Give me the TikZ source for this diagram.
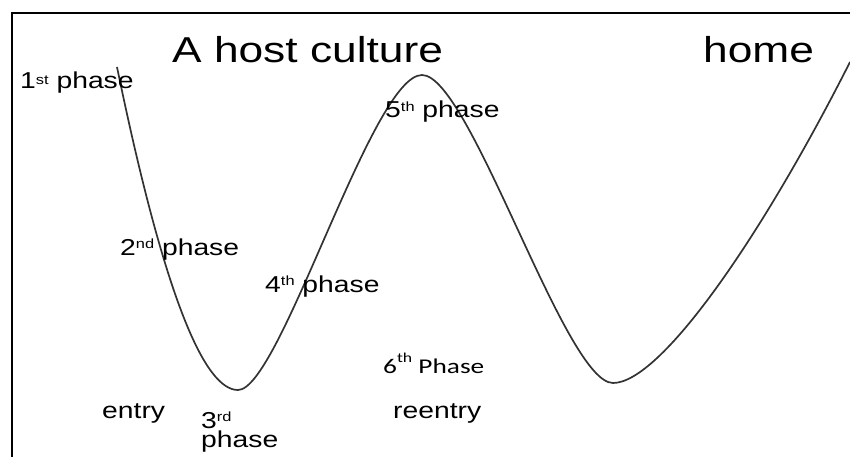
\documentclass[tikz,border=0pt]{standalone}
\usepackage{graphicx}
\usepackage{fontspec}
\setmainfont{Liberation Sans}
\newfontfamily\calibfont{Carlito}
\newcommand{\widen}[2][1.23]{\scalebox{#1}[1]{#2}}
\newcommand{\supr}[2][0.3em]{\raisebox{#1}{\scalebox{0.58}{#2}}}
\begin{document}
\begin{tikzpicture}[x=1pt,y=-1pt,
  titletext/.style={anchor=base west, inner sep=0pt, font=\fontsize{36}{40}\selectfont},
  lbl/.style={anchor=base west, inner sep=0pt, font=\fontsize{23}{20}\selectfont},
  calib/.style={anchor=base west, inner sep=0pt, font=\calibfont\fontsize{21}{24}\selectfont},
  curve/.style={line width=1.7pt, draw=black!80},
  frame/.style={line width=2pt, draw=black}]
\useasboundingbox (0,0) rectangle (850,457);
% frame
\coordinate (ftr) at (850,13);
\coordinate (ftl) at (12,13);
\coordinate (fbl) at (12,457);
\draw[frame] (ftr) -- (ftl) -- (fbl);
% titles
\node[titletext] (host) at (172,63) {\widen{A host culture}};
\node[titletext] (home) at (703,63) {\widen{home}};
% curve
\coordinate (c0) at (117,67);
\coordinate (m1) at (238,390);
\coordinate (p1) at (422,75);
\coordinate (m2) at (613,383);
\coordinate (c5) at (850,62);
\draw[curve] (c0) .. controls (165,300) and (205,390) .. (m1)
  .. controls (280,390) and (372,75) .. (p1)
  .. controls (470,75) and (565,383) .. (m2)
  .. controls (660,383) and (760,240) .. (c5);
% labels
\node[lbl] (ph1) at (20,89) {\widen{1\supr[0.2em]{st} phase}};
\node[lbl] (ph2) at (120,255) {\widen{2\supr{nd} phase}};
\node[lbl] (ph4) at (265,292) {\widen{4\supr{th} phase}};
\node[lbl] (ph5) at (385,118) {\widen{5\supr{th} phase}};
\node[calib] (ph6) at (383,373) {\widen[1.3]{6\raisebox{0.5em}{\scalebox{0.65}{th}} Phase}};
\node[lbl] (entry) at (102,418) {\widen{entry}};
\node[lbl, align=left] (ph3) at (201,447) {\widen{3\supr{rd}}\\[-1pt]\widen{phase}};
\node[lbl] (reentry) at (393,418) {\widen{reentry}};
\end{tikzpicture}
\end{document}
